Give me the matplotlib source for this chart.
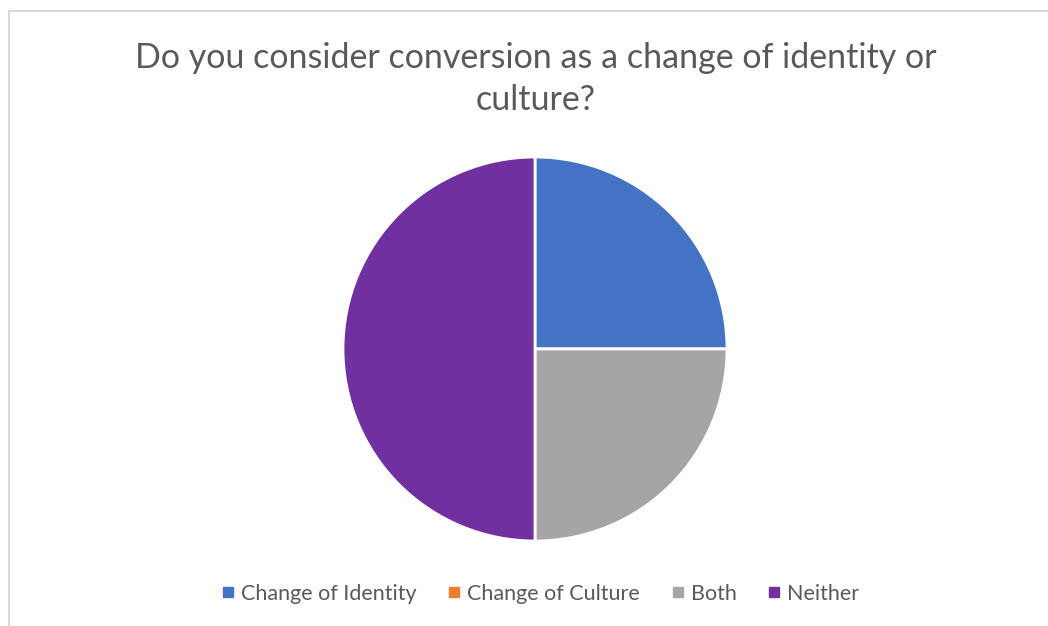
import matplotlib
matplotlib.use("Agg")
import matplotlib.pyplot as plt
from matplotlib.lines import Line2D

categories = ["Change of Identity", "Change of Culture", "Both", "Neither"]
values = [1, 0, 1, 2]
colors = ["#4472C4", "#ED7D31", "#A5A5A5", "#7030A0"]
title = "Do you consider conversion as a change of identity or\nculture?"

plt.rcParams["font.family"] = ["Lato", "DejaVu Sans"]

W, H = 1048, 626
fig = plt.figure(figsize=(W / 100, H / 100), dpi=100)
fig.patch.set_facecolor("white")

# chart-area border (top and left edges visible)
border = "#D9D9D9"
fig.add_artist(Line2D([9 / W, 9 / W], [0, 1 - 10.5 / H], transform=fig.transFigure,
                      color=border, lw=1.5))
fig.add_artist(Line2D([9 / W, 1], [1 - 10.5 / H, 1 - 10.5 / H], transform=fig.transFigure,
                      color=border, lw=1.5))

# pie area: centre (535, 349), radius 192 px
cx, cy, r = 535, 349, 192
ax = fig.add_axes([(cx - r) / W, 1 - (cy + r) / H, 2 * r / W, 2 * r / H])
ax.pie(values, colors=colors, startangle=90, counterclock=False,
       wedgeprops=dict(edgecolor="white", linewidth=2), radius=1.0)
ax.set_xlim(-1, 1)
ax.set_ylim(-1, 1)
ax.set_aspect("equal")
ax.axis("off")

fig.text(535.5 / W, 1 - 79 / H, title, ha="center", va="center", fontsize=24.5,
         color="#595959", linespacing=1.42)

handles = [Line2D([], [], marker="s", linestyle="none", markersize=7,
                  markerfacecolor=c, markeredgecolor=c) for c in colors]
fig.legend(handles, categories, loc="center", bbox_to_anchor=(541 / W, 1 - 594 / H),
           ncol=4, frameon=False, fontsize=15.5, labelcolor="#595959",
           handlelength=0.5, handletextpad=0.35, columnspacing=1.5)

fig.savefig("out.png", dpi=100, facecolor="white")
